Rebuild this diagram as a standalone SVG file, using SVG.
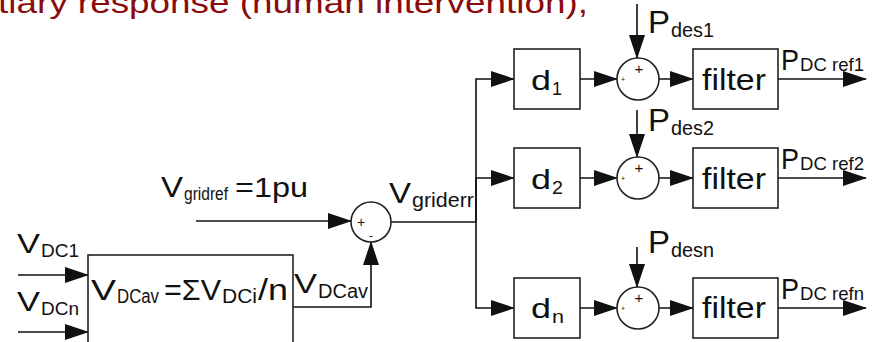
<svg xmlns="http://www.w3.org/2000/svg" width="874" height="342" viewBox="0 0 874 342">
<defs>
<style>
.t{font-family:"Liberation Sans",Arial,sans-serif;fill:#111}
.box{fill:#fff;stroke:#222;stroke-width:1.6}
.ln{fill:none;stroke:#111;stroke-width:1.6}
.arr{marker-end:url(#ah)}
.sg{font-family:"Liberation Sans",Arial,sans-serif;fill:#111;text-anchor:middle}
</style>
<marker id="ah" markerUnits="userSpaceOnUse" markerWidth="24" markerHeight="16" refX="23" refY="8" orient="auto">
<path d="M0,0 L24,8 L0,16 Z" fill="#111"/>
</marker>
</defs>
<rect width="874" height="342" fill="#fff"/>
<text x="-2" y="13" font-size="30" textLength="590" lengthAdjust="spacingAndGlyphs" style="font-family:'Liberation Sans',Arial,sans-serif;fill:#8b0c0c">tiary response (human intervention),</text>

<g id="connectors">
<line class="ln arr" x1="18" y1="275" x2="88" y2="275"/>
<line class="ln arr" x1="18" y1="332" x2="88" y2="332"/>
<line class="ln arr" x1="196" y1="221" x2="351" y2="221"/>
<polyline class="ln arr" points="293,307 371,307 371,242"/>
<line class="ln" x1="391" y1="222" x2="476" y2="222"/>
<polyline class="ln arr" points="476,222 476,79 514,79"/>
<polyline class="ln arr" points="476,222 476,178 514,178"/>
<polyline class="ln arr" points="476,222 476,308 514,308"/>
<line class="ln arr" x1="580" y1="79" x2="617" y2="79"/>
<line class="ln arr" x1="580" y1="178" x2="617" y2="178"/>
<line class="ln arr" x1="580" y1="308" x2="617" y2="308"/>
<line class="ln arr" x1="659" y1="79" x2="693" y2="79"/>
<line class="ln arr" x1="659" y1="178" x2="693" y2="178"/>
<line class="ln arr" x1="659" y1="308" x2="693" y2="308"/>
<line class="ln arr" x1="778" y1="79" x2="866" y2="79"/>
<line class="ln arr" x1="778" y1="178" x2="866" y2="178"/>
<line class="ln arr" x1="778" y1="308" x2="866" y2="308"/>
<line class="ln arr" x1="637" y1="4" x2="637" y2="58"/>
<line class="ln arr" x1="637" y1="110" x2="637" y2="157"/>
<line class="ln arr" x1="637" y1="247" x2="637" y2="287"/>
</g>

<g id="labels">
<g id="lbl-vdc1">
<text class="t" x="17" y="253" font-size="28" textLength="23" lengthAdjust="spacingAndGlyphs">V</text>
<text class="t" x="41" y="257" font-size="19" textLength="38" lengthAdjust="spacingAndGlyphs">DC1</text>
</g>
<g id="lbl-vdcn">
<text class="t" x="17" y="311" font-size="28" textLength="23" lengthAdjust="spacingAndGlyphs">V</text>
<text class="t" x="41" y="315" font-size="19" textLength="38" lengthAdjust="spacingAndGlyphs">DCn</text>
</g>
<g id="lbl-vgridref">
<text class="t" x="161" y="197" font-size="29" textLength="22" lengthAdjust="spacingAndGlyphs">V</text>
<text class="t" x="184" y="200" font-size="18" textLength="44" lengthAdjust="spacingAndGlyphs">gridref</text>
<text class="t" x="235" y="197" font-size="28" textLength="73" lengthAdjust="spacingAndGlyphs">=1pu</text>
</g>
<g id="lbl-vdcav">
<text class="t" x="294" y="293" font-size="28" textLength="23" lengthAdjust="spacingAndGlyphs">V</text>
<text class="t" x="318" y="298" font-size="20" textLength="50" lengthAdjust="spacingAndGlyphs">DCav</text>
</g>
<g id="lbl-vgriderr">
<text class="t" x="389" y="203" font-size="30" textLength="22" lengthAdjust="spacingAndGlyphs">V</text>
<text class="t" x="412" y="207" font-size="20" textLength="62" lengthAdjust="spacingAndGlyphs">griderr</text>
</g>
<g id="lbl-pdes">
<text class="t" x="648" y="33" font-size="32" textLength="22" lengthAdjust="spacingAndGlyphs">P</text>
<text class="t" x="671" y="37" font-size="21" textLength="43" lengthAdjust="spacingAndGlyphs">des1</text>
<text class="t" x="648" y="131" font-size="32" textLength="22" lengthAdjust="spacingAndGlyphs">P</text>
<text class="t" x="671" y="135" font-size="21" textLength="43" lengthAdjust="spacingAndGlyphs">des2</text>
<text class="t" x="648" y="253" font-size="32" textLength="22" lengthAdjust="spacingAndGlyphs">P</text>
<text class="t" x="671" y="257" font-size="21" textLength="43" lengthAdjust="spacingAndGlyphs">desn</text>
</g>
<g id="lbl-pdcref">
<text class="t" x="781" y="70" font-size="30" textLength="18" lengthAdjust="spacingAndGlyphs">P</text>
<text class="t" x="800" y="71" font-size="19" textLength="64" lengthAdjust="spacingAndGlyphs">DC ref1</text>
<text class="t" x="781" y="169" font-size="30" textLength="18" lengthAdjust="spacingAndGlyphs">P</text>
<text class="t" x="800" y="170" font-size="19" textLength="64" lengthAdjust="spacingAndGlyphs">DC ref2</text>
<text class="t" x="781" y="299" font-size="30" textLength="18" lengthAdjust="spacingAndGlyphs">P</text>
<text class="t" x="800" y="300" font-size="19" textLength="64" lengthAdjust="spacingAndGlyphs">DC refn</text>
</g>
</g>

<g id="avg-block">
<rect class="box" x="88" y="255" width="205" height="100"/>
<text class="t" x="91" y="300" font-size="30" textLength="25" lengthAdjust="spacingAndGlyphs">V</text>
<text class="t" x="117" y="303" font-size="20" textLength="42" lengthAdjust="spacingAndGlyphs">DCav</text>
<text class="t" x="164" y="300" font-size="30" textLength="57" lengthAdjust="spacingAndGlyphs">=ΣV</text>
<text class="t" x="222" y="303" font-size="20" textLength="35" lengthAdjust="spacingAndGlyphs">DCi</text>
<text class="t" x="258" y="300" font-size="30" textLength="30" lengthAdjust="spacingAndGlyphs">/n</text>
</g>

<g id="sum-grid">
<circle class="box" cx="371" cy="222" r="20"/>
<text class="sg" x="361" y="227" font-size="14">+</text>
<text class="sg" x="371" y="240" font-size="12">-</text>
</g>

<g id="d1"><rect class="box" x="514" y="49" width="66" height="60"/>
<text class="t" x="531" y="90" font-size="28" textLength="20" lengthAdjust="spacingAndGlyphs">d</text>
<text class="t" x="552" y="95" font-size="18" textLength="10" lengthAdjust="spacingAndGlyphs">1</text></g>
<g id="d2"><rect class="box" x="514" y="148" width="66" height="60"/>
<text class="t" x="531" y="189" font-size="28" textLength="20" lengthAdjust="spacingAndGlyphs">d</text>
<text class="t" x="552" y="194" font-size="18" textLength="11" lengthAdjust="spacingAndGlyphs">2</text></g>
<g id="dn"><rect class="box" x="514" y="278" width="66" height="60"/>
<text class="t" x="531" y="318" font-size="28" textLength="20" lengthAdjust="spacingAndGlyphs">d</text>
<text class="t" x="552" y="323" font-size="18" textLength="12" lengthAdjust="spacingAndGlyphs">n</text></g>

<g id="sum1"><circle class="box" cx="638" cy="79" r="21"/>
<text class="sg" x="639" y="74" font-size="15">+</text>
<text class="sg" x="623" y="82" font-size="7">+</text></g>
<g id="sum2"><circle class="box" cx="638" cy="178" r="21"/>
<text class="sg" x="639" y="173" font-size="15">+</text>
<text class="sg" x="623" y="181" font-size="7">+</text></g>
<g id="sumn"><circle class="box" cx="638" cy="308" r="21"/>
<text class="sg" x="639" y="303" font-size="15">+</text>
<text class="sg" x="623" y="311" font-size="7">+</text></g>

<g id="filter1"><rect class="box" x="693" y="49" width="85" height="60"/>
<text class="t" x="702" y="90" font-size="30" textLength="64" lengthAdjust="spacingAndGlyphs">filter</text></g>
<g id="filter2"><rect class="box" x="693" y="148" width="85" height="60"/>
<text class="t" x="702" y="189" font-size="30" textLength="64" lengthAdjust="spacingAndGlyphs">filter</text></g>
<g id="filtern"><rect class="box" x="693" y="278" width="85" height="60"/>
<text class="t" x="702" y="318" font-size="30" textLength="64" lengthAdjust="spacingAndGlyphs">filter</text></g>
</svg>
